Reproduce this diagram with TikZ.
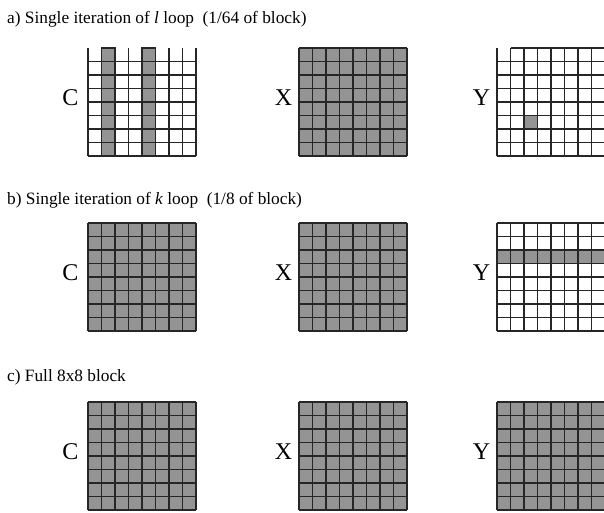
\documentclass[tikz,border=0pt]{standalone}
\usepackage{fontspec}
\setmainfont{Liberation Serif}
\begin{document}
\begin{tikzpicture}[x=1pt,y=-1pt,
  gridline/.style={line width=1.1pt,draw=black!85},
  cellfill/.style={fill=black!42,draw=black!85,line width=1.1pt},
  title/.style={anchor=base west,inner sep=0pt,font=\fontsize{17.3}{20}\selectfont},
  mlabel/.style={anchor=center,inner sep=0pt,font=\fontsize{24}{28}\selectfont}]
\useasboundingbox (0,0) rectangle (604,512);
\clip (0,0) rectangle (604,512);
\def\cs{13.5}
% titles
\node[title] (ta) at (7,23) {a) Single iteration of \textit{l} loop\ \ (1/64 of block)};
\node[title] (tb) at (7,204) {b) Single iteration of \textit{k} loop\ \ (1/8 of block)};
\node[title] (tc) at (7,381) {c) Full 8x8 block};
% labels
\foreach \r/\yy in {a/98,b/273,c/452}{
  \node[mlabel] (C\r) at (70.5,\yy) {C};
  \node[mlabel] (X\r) at (283.5,\yy) {X};
  \node[mlabel] (Y\r) at (481.5,\yy) {Y};
}
% ---------- row a ----------
% C: columns 1 and 4 gray, no top line on white columns
\begin{scope}[shift={(88,48)}]
  \foreach \c in {1,4}{\filldraw[cellfill] (\c*\cs,0) rectangle ++(\cs,8*\cs);}
  \foreach \i in {0,...,8}{\draw[gridline] (\i*\cs,0) -- ++(0,8*\cs);}
  \foreach \i in {1,...,8}{\draw[gridline] (0,\i*\cs) -- ++(8*\cs,0);}
  \foreach \c in {1,4}{\draw[gridline] (\c*\cs,0) -- ++(\cs,0);}
\end{scope}
% X full
\begin{scope}[shift={(299,48)}]
  \fill[black!42] (0,0) rectangle (8*\cs,8*\cs);
  \foreach \i in {0,...,8}{\draw[gridline] (\i*\cs,0) -- ++(0,8*\cs);
                           \draw[gridline] (0,\i*\cs) -- ++(8*\cs,0);}
\end{scope}
% Y: one cell gray, first column without top line
\begin{scope}[shift={(497,48)}]
  \fill[black!42] (2*\cs,5*\cs) rectangle ++(\cs,\cs);
  \foreach \i in {0,...,8}{\draw[gridline] (\i*\cs,0) -- ++(0,8*\cs);}
  \foreach \i in {1,...,8}{\draw[gridline] (0,\i*\cs) -- ++(8*\cs,0);}
  \draw[gridline] (\cs,0) -- (8*\cs,0);
\end{scope}
% ---------- row b ----------
\begin{scope}[shift={(88,223)}]
  \fill[black!42] (0,0) rectangle (8*\cs,8*\cs);
  \foreach \i in {0,...,8}{\draw[gridline] (\i*\cs,0) -- ++(0,8*\cs);
                           \draw[gridline] (0,\i*\cs) -- ++(8*\cs,0);}
\end{scope}
\begin{scope}[shift={(299,223)}]
  \fill[black!42] (0,0) rectangle (8*\cs,8*\cs);
  \foreach \i in {0,...,8}{\draw[gridline] (\i*\cs,0) -- ++(0,8*\cs);
                           \draw[gridline] (0,\i*\cs) -- ++(8*\cs,0);}
\end{scope}
\begin{scope}[shift={(497,223)}]
  \fill[black!42] (0,2*\cs) rectangle (8*\cs,3*\cs);
  \foreach \i in {0,...,8}{\draw[gridline] (\i*\cs,0) -- ++(0,8*\cs);
                           \draw[gridline] (0,\i*\cs) -- ++(8*\cs,0);}
\end{scope}
% ---------- row c ----------
\foreach \gx in {88,299,497}{
\begin{scope}[shift={(\gx,402)}]
  \fill[black!42] (0,0) rectangle (8*\cs,8*\cs);
  \foreach \i in {0,...,8}{\draw[gridline] (\i*\cs,0) -- ++(0,8*\cs);
                           \draw[gridline] (0,\i*\cs) -- ++(8*\cs,0);}
\end{scope}}
\end{tikzpicture}
\end{document}
